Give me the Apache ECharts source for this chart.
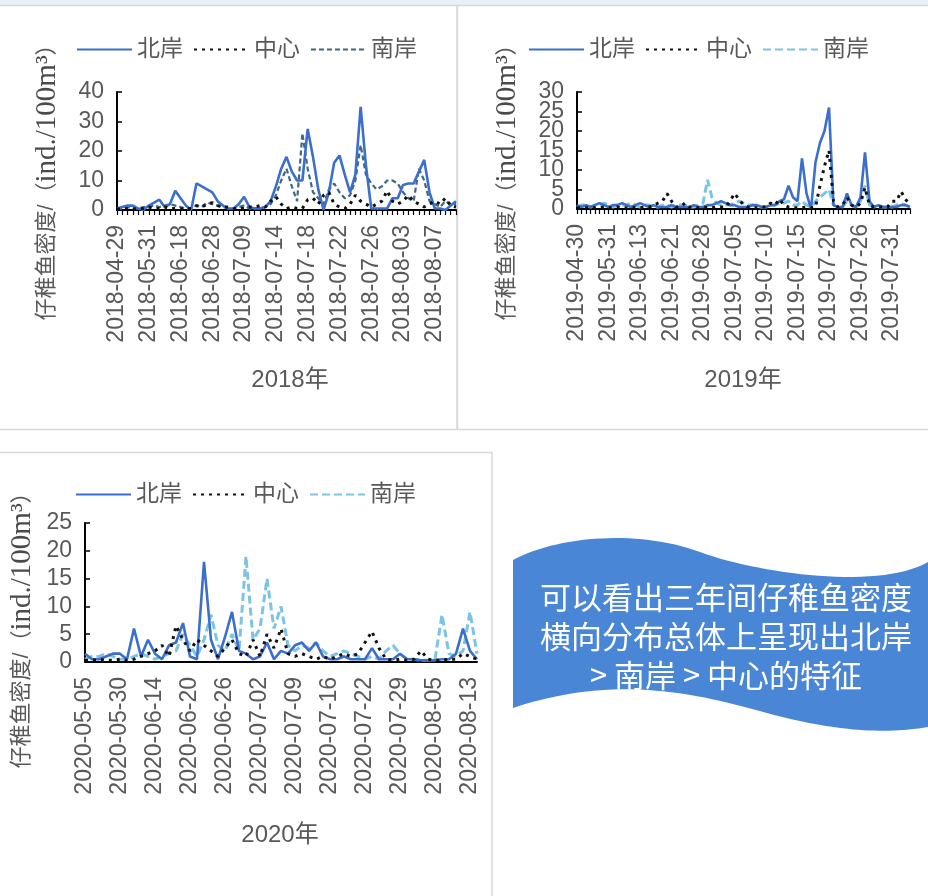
<!DOCTYPE html>
<html><head><meta charset="utf-8">
<script src="https://cdn.jsdelivr.net/npm/echarts@6/dist/echarts.min.js"></script>
<style>html,body{margin:0;padding:0;background:#fff}#c{width:928px;height:896px}</style>
</head><body><div id="c"></div>
<script>
// ---------- 2018 ----------
const dates2018 = ['2018-04-29','2018-05-04','2018-05-09','2018-05-14','2018-05-20','2018-05-25',
'2018-05-31','2018-06-03','2018-06-06','2018-06-09','2018-06-12','2018-06-15',
'2018-06-18','2018-06-20','2018-06-22','2018-06-23','2018-06-25','2018-06-27',
'2018-06-28','2018-06-30','2018-07-02','2018-07-04','2018-07-06','2018-07-08',
'2018-07-09','2018-07-10','2018-07-11','2018-07-12','2018-07-13','2018-07-13',
'2018-07-14','2018-07-15','2018-07-15','2018-07-16','2018-07-17','2018-07-17',
'2018-07-18','2018-07-19','2018-07-19','2018-07-20','2018-07-21','2018-07-21',
'2018-07-22','2018-07-23','2018-07-23','2018-07-24','2018-07-25','2018-07-25',
'2018-07-26','2018-07-27','2018-07-29','2018-07-30','2018-08-01','2018-08-02',
'2018-08-03','2018-08-04','2018-08-04','2018-08-05','2018-08-06','2018-08-06',
'2018-08-07','2018-08-08','2018-08-09','2018-08-10','2018-08-11'];
const north2018 = [0.5,1,1.5,1.5,0.5, 0,1.5,2.5,3.5,1, 2,6.5,4,1.5,0, 9,8,7,6,3, 1.5,0.5,0.5,2,4.5, 1,0.5,0.5,1,3, 8,14,18,13,10, 10,27.5,18,7,0, 6,16,18.5,12,6, 12,35,15,0.5,0.5, 0.5,0.5,4,4,8.5, 9,9,13,17,6, 0.5,0.5,0,1.5,3];
const center2018 = [0.3,0.3,0.5,0.3,0.5, 0.5,1,0.5,0.5,1, 0.5,0.5,0.3,0.5,0.5, 1.5,1,2,2.5,1.5, 1,1,0.5,0.5,0.5, 1,1,1.5,1,3, 4.5,2,0.5,1,0.5, 0.5,3.5,4,2,5, 6,2,1,0.5,2, 5,3,2,1,2, 3,6.5,3,2,3, 5,3,2,1,2, 3,2,4,1.5,1];
const south2018 = [0.5,0.5,1,0.5,0.5, 1,1,1.5,1,1.5, 2,1.5,1,0.5,0.5, 1.5,1,2.5,2,1.5, 1,0.5,0.5,1,1.5, 0.5,0.5,1,1,2, 5,10,14,8,3, 26,14,6,4,2, 7,9,6,4,5, 10,22,12,9,7, 8,10,10,9,6, 4,3,14,10,3, 2,1,3,2,2];

// ---------- 2019 ----------
const dates2019 = ['2019-04-30','2019-05-05','2019-05-09','2019-05-13','2019-05-18','2019-05-22','2019-05-27',
'2019-05-31','2019-06-02','2019-06-04','2019-06-06','2019-06-08','2019-06-10','2019-06-12',
'2019-06-13','2019-06-14','2019-06-15','2019-06-16','2019-06-18','2019-06-19','2019-06-20',
'2019-06-21','2019-06-22','2019-06-23','2019-06-24','2019-06-25','2019-06-26','2019-06-27',
'2019-06-28','2019-06-29','2019-06-30','2019-07-01','2019-07-02','2019-07-03','2019-07-04',
'2019-07-05','2019-07-06','2019-07-06','2019-07-07','2019-07-08','2019-07-08','2019-07-09',
'2019-07-10','2019-07-11','2019-07-11','2019-07-12','2019-07-13','2019-07-13','2019-07-14',
'2019-07-15','2019-07-16','2019-07-16','2019-07-17','2019-07-18','2019-07-18','2019-07-19',
'2019-07-20','2019-07-21','2019-07-22','2019-07-22','2019-07-23','2019-07-24','2019-07-25',
'2019-07-26','2019-07-27','2019-07-27','2019-07-28','2019-07-29','2019-07-29','2019-07-30',
'2019-07-31','2019-08-01','2019-08-01','2019-08-02','2019-08-03'];
const north2019 = [1,0.5,1,0.5,1, 1.5,1,0.5,1,1, 1.5,1,0.5,1,1.5, 1,0.5,1,0.5,0.5, 0.5,1,0.5,0.5,0.5, 0.5,1,0.5,0.5,1, 1,1.5,2,1.5,1, 1,0.5,0.5,0.5,1, 1,0.5,0.5,1,1, 2,2.5,
 6,3,2,13,4, 0,12,17,20,26, 1,0.5,0.5,4,1, 0.5,3,14.5,2,0.5, 1,0.5,0.5,0.5,0.5, 1,1,0.5];
const center2019 = [0.3,0.3,0.3,0.5,0.3, 0.3,0.5,0.3,0.3,0.5, 0.3,0.3,0.5,0.3,0.3, 0.5,0.5,1,1.5,2, 4,2,0.5,0.5,1.5, 0.5,0.3,0.3,0.5,0.3, 0.3,0.5,0.5,0.5,2, 4,2.5,1,0.5,0.5, 0.3,0.5,0.5,1.5,1, 2.5,1,0.5,0.3,0.3, 0.3,0.5,0.3,0.5,6, 11,15,2,0.5,1, 3,1,0.5,1.5,5.5, 1,0.5,0.5,0.5,0.5, 2,2,4.5,2.5,1];
const south2019 = [0.5,1,1,0.5,1, 1,1.5,1,0.5,1, 1,1,1.5,1,0.5, 1,1,0.5,0.5,1, 1,0.5,1,1,1, 0.5,0.5,1,1.5,7.5, 3,1.5,1,1,1, 1.5,2,1.5,1,1, 0.5,0.5,0.5,1,1, 1.5,1.5,2,1,1, 2,1,0.5,2,3, 4,5,1,0.5,0.5, 2,1,0.5,2,6, 1,0.5,0.5,0.5,0.5, 0.5,1,1.5,1,0.5];

// ---------- 2020 ----------
const dates2020 = ['2020-05-05','2020-05-10','2020-05-15','2020-05-20','2020-05-25',
'2020-05-30','2020-06-03','2020-06-06','2020-06-09','2020-06-12',
'2020-06-14','2020-06-15','2020-06-17','2020-06-18','2020-06-19',
'2020-06-20','2020-06-21','2020-06-22','2020-06-23','2020-06-25',
'2020-06-26','2020-06-27','2020-06-28','2020-06-29','2020-07-01',
'2020-07-02','2020-07-03','2020-07-05','2020-07-06','2020-07-08',
'2020-07-09','2020-07-10','2020-07-12','2020-07-13','2020-07-15',
'2020-07-16','2020-07-17','2020-07-19','2020-07-20','2020-07-21',
'2020-07-22','2020-07-23','2020-07-25','2020-07-26','2020-07-28',
'2020-07-29','2020-07-30','2020-08-01','2020-08-02','2020-08-04',
'2020-08-05','2020-08-06','2020-08-08','2020-08-09','2020-08-11',
'2020-08-13','2020-08-14'];
const north2020 = [1.5,0.5,0.5,1,1.5, 1.5,0.5,6,1,4, 1.5,0.5,3,3.5,7, 1,0.5,18,4,0.5, 4.5,9,2,1.5,0.5, 1,3.5,0.5,2,1.5, 3,3.5,2,3.5,1, 0.5,0.5,1,0.5,0.5, 0.5,2.5,0.5,0.5,0.5, 1.5,0.5,0.5,0.3,0.3, 0.3,0.5,0.5,1.5,6, 2,0.5];
const center2020 = [0.3,0.3,0.5,0.3,0.3, 0.5,0.3,0.5,1,1.5, 2,3,1,6.5,4, 2,4,3,2,1, 2.5,4,1.5,1,4, 1,5,2.5,6,1.5, 1,1.5,1,0.5,1, 0.5,1,1.5,1,1.5, 3.5,5.5,2.5,0.5,0.3, 0.5,0.3,0.5,2,0.5, 0.3,0.3,0.5,0.5,1.5, 1,0.5];
const south2020 = [0.5,1,1,1.5,1, 0.5,0.5,1,1.5,1, 0.5,1,1.5,2,5, 3,1,4,8.5,3, 2,5,2,19,4, 6,15,6,10,3, 2,3,2.5,3.5,2, 1,1.5,2,1.5,1, 0.5,1,0.5,2,3, 1.5,0.5,0.5,0.3,0.3, 0.5,8.5,1.5,1,2, 9,1.5];

const seriesNames = ['北岸','中心','南岸'];
const yearTitles = ['2018年','2019年','2020年'];
const yMax = [40, 30, 25];
const yStep = [10, 5, 5];
const yAxisTitle = '仔稚鱼密度/';
const yAxisUnit = 'ind./100m³';
const bannerText = '可以看出三年间仔稚鱼密度\n横向分布总体上呈现出北岸\n> 南岸 > 中心的特征';

const SANS = '"Liberation Sans","Noto Sans CJK SC",sans-serif';
const GRAY = '#595959';
const panels = [
  {dates: dates2018, n: north2018, c: center2018, s: south2018, grid: {left:117, top:92, width:339, height:118}, lblInt:5, ticks:true, split:false, southColor:'#3d6784', southDash:[5,3], southW:2.2, legend:{left:71, top:33}, title:[290,380], yname:[47,177]},
  {dates: dates2019, n: north2019, c: center2019, s: south2019, grid: {left:577, top:92, width:333, height:117}, lblInt:6, ticks:true, split:true, southColor:'#7cc4e4', southDash:[8,4], southW:3, legend:{left:523, top:33}, title:[743,380], yname:[507,177]},
  {dates: dates2020, n: north2020, c: center2020, s: south2020, grid: {left:85, top:523, width:392, height:139}, lblInt:4, ticks:false, split:false, southColor:'#7cc4e4', southDash:[8,4], southW:3, legend:{left:70, top:478}, title:[280,835], yname:[22,625]}
];

// banner outline sampled from cubic bezier segments (pure decoration)
function bez(p0, p1, p2, p3, n) {
  const out = [];
  for (let k = 0; k <= n; k++) {
    const t = k / n, u = 1 - t;
    out.push([u*u*u*p0[0] + 3*u*u*t*p1[0] + 3*u*t*t*p2[0] + t*t*t*p3[0],
              u*u*u*p0[1] + 3*u*u*t*p1[1] + 3*u*t*t*p2[1] + t*t*t*p3[1]]);
  }
  return out;
}
const bannerPts = [].concat(
  bez([513,560],[560,535],[640,530],[700,552],30),
  bez([700,552],[760,574],[880,590],[928,562],30),
  bez([928,727],[880,735],[830,730],[767,713],30),
  bez([767,713],[704,696],[620,672],[513,708],30)
);

const grids = [], xAxes = [], yAxes = [], series = [], legends = [], graphics = [];
graphics.push({type:'rect', shape:{x:0,y:0,width:928,height:5}, style:{fill:'#e9f1f6'}, silent:true});
graphics.push({type:'rect', shape:{x:-2,y:5.5,width:459,height:424}, style:{fill:'none', stroke:'#d9d9d9', lineWidth:1.5}, silent:true});
graphics.push({type:'rect', shape:{x:457.5,y:5.5,width:472,height:424}, style:{fill:'none', stroke:'#d9d9d9', lineWidth:1.5}, silent:true});
graphics.push({type:'rect', shape:{x:-2,y:452.5,width:494,height:450}, style:{fill:'none', stroke:'#d9d9d9', lineWidth:1.5}, silent:true});
graphics.push({type:'polygon', shape:{points:bannerPts}, style:{fill:'#4a86d6'}, silent:true});
graphics.push({type:'text', x:726, y:636, style:{text:bannerText, fill:'#fff', fontSize:31, lineHeight:39, fontFamily:'"Noto Sans CJK SC",sans-serif', align:'center', verticalAlign:'middle'}});

const extraY = [];
panels.forEach((p, i) => {
  const suf = '_' + i;
  grids.push(p.grid);
  xAxes.push({
    type:'category', gridIndex:i, data:p.dates, boundaryGap:false,
    axisLine:{lineStyle:{color:'#000', width:2}},
    axisTick:{show:p.ticks, interval:0, length:5, lineStyle:{color:'#000', width:1.2}},
    axisLabel:{interval:p.lblInt, rotate:90, margin:15, color:GRAY, fontSize:23, fontFamily:SANS},
    splitLine:{show:false}
  });
  const step = yStep[i];
  yAxes.push({
    type:'value', gridIndex:i, min:0, max:yMax[i], interval:step,
    axisLine:{show:true, lineStyle:{color:'#000', width:2}},
    axisTick:{show:true, inside:true, length:5, lineStyle:{color:'#000', width:1.5}},
    axisLabel:{color:GRAY, fontSize:23, fontFamily:SANS, margin:13, showMinLabel:true, showMaxLabel:true,
      formatter: p.split ? (v => (v % (2*step) === 0 ? String(v) : '')) : '{value}'},
    splitLine:{show:false}
  });
  if (p.split) {
    // companion axis on the same scale carrying the odd tick labels, so none are dropped as overlapping
    extraY.push({
      type:'value', gridIndex:i, min:0, max:yMax[i], interval:step, position:'left', offset:0,
      axisLine:{show:false}, axisTick:{show:false}, splitLine:{show:false},
      axisLabel:{color:GRAY, fontSize:23, fontFamily:SANS, margin:13, showMinLabel:false, showMaxLabel:false,
        formatter: v => (v % (2*step) !== 0 ? String(v) : '')}
    });
  }
  series.push({name:seriesNames[0]+suf, type:'line', xAxisIndex:i, yAxisIndex:i, data:p.n, symbol:'none',
    lineStyle:{color:'#3b6fcb', width:2.6}, itemStyle:{color:'#3b6fcb'}, z:3});
  series.push({name:seriesNames[1]+suf, type:'line', xAxisIndex:i, yAxisIndex:i, data:p.c, symbol:'none',
    lineStyle:{color:'#111', width:3, type:[3,5]}, itemStyle:{color:'#111'}, z:4});
  series.push({name:seriesNames[2]+suf, type:'line', xAxisIndex:i, yAxisIndex:i, data:p.s, symbol:'none',
    lineStyle:{color:p.southColor, width:p.southW, type:p.southDash}, itemStyle:{color:p.southColor}, z:2});
  legends.push({
    left:p.legend.left, top:p.legend.top, orient:'horizontal',
    data:seriesNames.map(n => n + suf),
    formatter: n => n.split('_')[0],
    itemWidth:55, itemHeight:14, itemGap:10, selectedMode:false,
    itemStyle:{opacity:0},
    textStyle:{fontSize:23, color:GRAY, fontFamily:SANS}
  });
  graphics.push({type:'text', x:p.title[0], y:p.title[1], style:{text:yearTitles[i], fill:GRAY, fontSize:24, fontFamily:SANS, align:'center', verticalAlign:'middle'}});
  graphics.push({type:'text', x:p.yname[0], y:p.yname[1], rotation:Math.PI/2,
    style:{text:'{a|' + yAxisTitle + '（}{b|' + yAxisUnit + '}{a|）}', align:'center', verticalAlign:'middle',
      rich:{a:{fontSize:22, fill:GRAY, fontFamily:SANS}, b:{fontSize:29, fill:'#4a4a4a', fontFamily:'"Liberation Serif","DejaVu Serif",serif'}}}});
});
extraY.forEach(a => yAxes.push(a));

const chart = echarts.init(document.getElementById('c'), null, {renderer:'canvas'});
chart.setOption({
  animation:false, backgroundColor:'#fff',
  grid:grids, xAxis:xAxes, yAxis:yAxes, series:series, legend:legends, graphic:graphics
});
</script></body></html>
